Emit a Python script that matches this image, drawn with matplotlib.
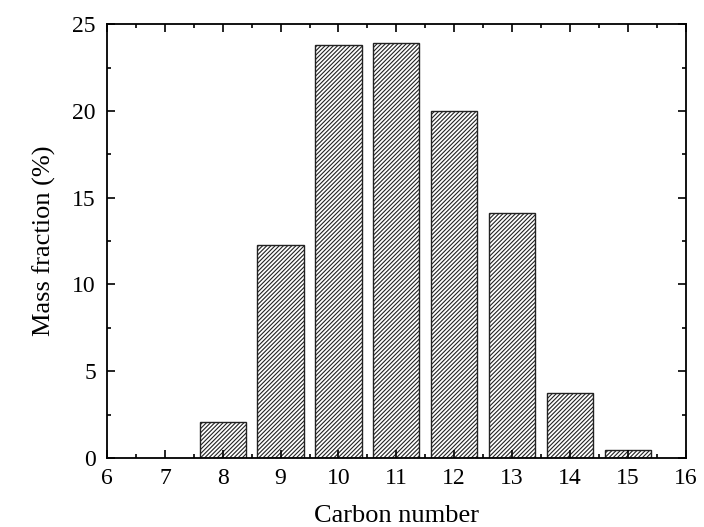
import matplotlib.pyplot as plt
from matplotlib.ticker import MultipleLocator

carbon = [8, 9, 10, 11, 12, 13, 14, 15]
mass_fraction = [2.1, 12.3, 23.8, 23.9, 20.0, 14.1, 3.75, 0.45]

plt.rcParams['font.family'] = ['Liberation Serif', 'DejaVu Serif']
plt.rcParams['hatch.color'] = '#666666'
plt.rcParams['hatch.linewidth'] = 0.8

fig = plt.figure(figsize=(7.04, 5.27), dpi=100)
ax = fig.add_axes([0.152, 0.131, 0.822, 0.823])

ax.bar(carbon, mass_fraction, width=0.8, color='white', edgecolor='#222222',
       linewidth=1.0, hatch='////////')

ax.set_xlim(6, 16)
ax.set_ylim(0, 25)
ax.xaxis.set_major_locator(MultipleLocator(1))
ax.xaxis.set_minor_locator(MultipleLocator(0.5))
ax.yaxis.set_major_locator(MultipleLocator(5))
ax.yaxis.set_minor_locator(MultipleLocator(2.5))
ax.tick_params(which='both', direction='in', top=True, right=True, width=1.2,
               labelsize=17)
ax.tick_params(which='major', length=6)
ax.tick_params(which='minor', length=3)
ax.tick_params(axis='y', pad=8)
ax.tick_params(axis='x', pad=7)
for s in ax.spines.values():
    s.set_linewidth(1.3)

ax.set_xlabel('Carbon number', fontsize=19, labelpad=12)
ax.set_ylabel('Mass fraction (%)', fontsize=19, labelpad=12)

fig.savefig('out.png', dpi=100)
